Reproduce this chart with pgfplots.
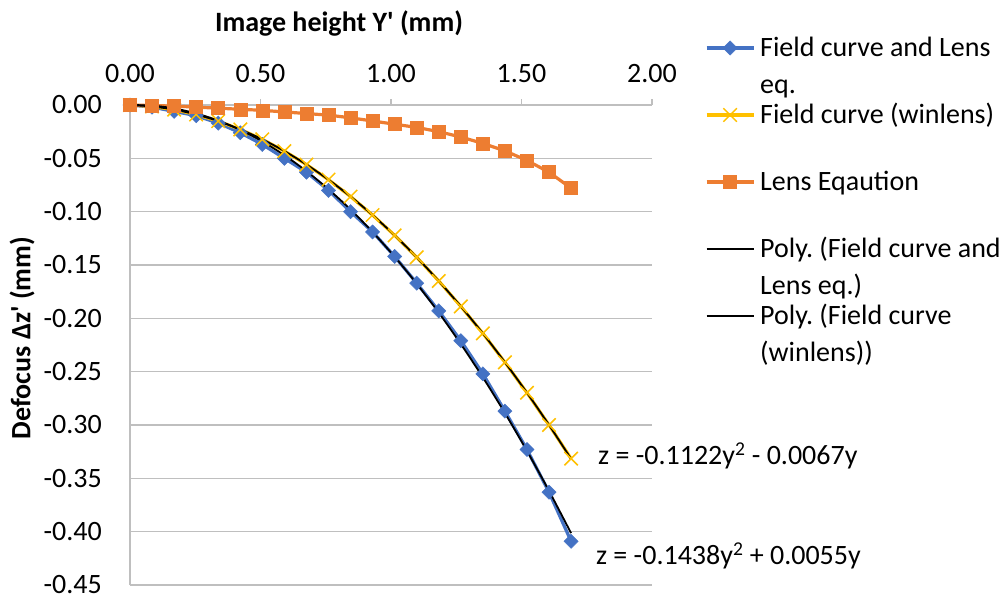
\documentclass[border=0pt]{standalone}
\usepackage{pgfplots}
\pgfplotsset{compat=1.18}
\usepackage{fontspec}
\setmainfont{Carlito}
\definecolor{cblue}{HTML}{4472C4}
\definecolor{corange}{HTML}{ED7D31}
\definecolor{cyellow}{HTML}{FFC000}
\definecolor{cgrid}{HTML}{BFBFBF}
\begin{document}
\frenchspacing
\fontsize{28bp}{37bp}\selectfont
\begin{tikzpicture}
\path[use as bounding box] (0,0) rectangle (1007bp,-594bp);
\begin{axis}[
  at={(130bp,-105bp)}, anchor=north west,
  scale only axis, width=522bp, height=480bp,
  xmin=0, xmax=2, ymin=-0.45, ymax=0,
  axis x line=top, axis y line=left,
  axis line style={-, draw=cgrid, line width=1.3bp},
  xtick={0,0.5,1,1.5,2},
  xticklabels={0.00,0.50,1.00,1.50,2.00},
  ytick={-0.45,-0.40,-0.35,-0.30,-0.25,-0.20,-0.15,-0.10,-0.05,0},
  yticklabels={-0.45,-0.40,-0.35,-0.30,-0.25,-0.20,-0.15,-0.10,-0.05,0.00},
  tick align=outside,
  major tick length=6bp,
  xtick style={draw=cgrid, line width=1.3bp},
  ytick style={draw=none},
  ymajorgrids, grid style={draw=cgrid, line width=1.3bp},
  tick label style={font=\fontsize{28bp}{34bp}\selectfont, inner sep=0pt},
  xticklabel style={anchor=center, yshift=25bp},
  yticklabel style={anchor=east, xshift=-22bp},
  xlabel={\bfseries Image height Y\textquotesingle{} (mm)},
  ylabel={\bfseries Defocus Δz\textquotesingle{} (mm)},
  xlabel style={at={(axis description cs:0.4004,1.1708)}, anchor=center, font=\fontsize{28bp}{34bp}\selectfont},
  ylabel style={at={(axis description cs:-0.2069,0.5146)}, anchor=center, rotate=0, font=\fontsize{28bp}{34bp}\selectfont},
  clip=false,
  legend style={draw=none, fill=none, inner sep=0pt, outer sep=0pt,
    at={(axis description cs:1.1015,1.1417)}, anchor=north west,
    row sep=0pt, column sep=5bp,
    cells={anchor=base west},
    nodes={inner sep=0pt, text height=20bp, text depth=47bp, font=\fontsize{28bp}{37bp}\selectfont}},
  legend image code/.code={\draw[mark repeat=2, mark phase=2, #1] plot coordinates {(0bp,9bp) (23.5bp,9bp) (47bp,9bp)};},
]
% Field curve and Lens eq.
\addplot[color=cblue, line width=3.2bp, mark=square*, mark size=5bp, mark options={rotate=45, fill=cblue, draw=cblue, line width=0.5bp}] coordinates {
(0,0) (0.0845,-0.002) (0.169,-0.006) (0.2535,-0.010) (0.338,-0.017) (0.4225,-0.026)
(0.507,-0.037) (0.5915,-0.050) (0.676,-0.063) (0.7605,-0.080) (0.845,-0.100)
(0.9295,-0.119) (1.014,-0.142) (1.0985,-0.167) (1.183,-0.193) (1.2675,-0.221)
(1.352,-0.252) (1.4365,-0.287) (1.521,-0.323) (1.6055,-0.363) (1.69,-0.409)};
\addlegendentry{\parbox[t]{250bp}{Field curve and Lens\\eq.}}
% Field curve (winlens)
\addplot[color=cyellow, line width=3.2bp, mark=x, mark size=9.5bp, mark options={line width=1.5bp}] coordinates {
(0,0) (0.0845,-0.0014) (0.169,-0.0043) (0.2535,-0.0089) (0.338,-0.0151) (0.4225,-0.0229)
(0.507,-0.0322) (0.5915,-0.0432) (0.676,-0.0558) (0.7605,-0.0700) (0.845,-0.0858)
(0.9295,-0.1032) (1.014,-0.1222) (1.0985,-0.1428) (1.183,-0.1650) (1.2675,-0.1888)
(1.352,-0.2141) (1.4365,-0.2412) (1.521,-0.2698) (1.6055,-0.3000) (1.69,-0.3315)};
\addlegendentry{\parbox[t]{250bp}{Field curve (winlens)}}
% Lens Equation
\addplot[color=corange, line width=3.2bp, mark=square*, mark size=6.5bp, mark options={fill=corange, draw=corange, line width=0.5bp}] coordinates {
(0,0) (0.0845,-0.0005) (0.169,-0.001) (0.2535,-0.002) (0.338,-0.003) (0.4225,-0.004)
(0.507,-0.005) (0.5915,-0.0065) (0.676,-0.008) (0.7605,-0.0095) (0.845,-0.012)
(0.9295,-0.015) (1.014,-0.018) (1.0985,-0.021) (1.183,-0.025) (1.2675,-0.030)
(1.352,-0.036) (1.4365,-0.043) (1.521,-0.052) (1.6055,-0.063) (1.69,-0.078)};
\addlegendentry{\parbox[t]{250bp}{Lens Eqaution}}
% Poly trend (Field curve and Lens eq.)
\addplot[color=black, line width=1.8bp, smooth, no markers] coordinates {
(0,0) (0.0845,-0.0006) (0.169,-0.0032) (0.2535,-0.0079) (0.338,-0.0146) (0.4225,-0.0234)
(0.507,-0.0342) (0.5915,-0.0471) (0.676,-0.0620) (0.7605,-0.0790) (0.845,-0.0980)
(0.9295,-0.1191) (1.014,-0.1423) (1.0985,-0.1675) (1.183,-0.1947) (1.2675,-0.2241)
(1.352,-0.2554) (1.4365,-0.2888) (1.521,-0.3243) (1.6055,-0.3618) (1.69,-0.4014)};
\addlegendentry{\parbox[t]{250bp}{Poly. (Field curve and\\Lens eq.)}}
% Poly trend (Field curve (winlens))
\addplot[color=black, line width=1.8bp, smooth, no markers] coordinates {
(0,0) (0.0845,-0.0014) (0.169,-0.0043) (0.2535,-0.0089) (0.338,-0.0151) (0.4225,-0.0229)
(0.507,-0.0322) (0.5915,-0.0432) (0.676,-0.0558) (0.7605,-0.0700) (0.845,-0.0858)
(0.9295,-0.1032) (1.014,-0.1222) (1.0985,-0.1428) (1.183,-0.1650) (1.2675,-0.1888)
(1.352,-0.2141) (1.4365,-0.2412) (1.521,-0.2698) (1.6055,-0.3000) (1.69,-0.3318)};
\addlegendentry{\parbox[t]{250bp}{Poly. (Field curve\\(winlens))}}
\node[anchor=west, inner sep=0pt, font=\fontsize{28bp}{34bp}\selectfont] at (axis cs:1.793,-0.329) {z = -0.1122y\textsuperscript{2} - 0.0067y};
\node[anchor=west, inner sep=0pt, font=\fontsize{28bp}{34bp}\selectfont] at (axis cs:1.785,-0.4227) {z = -0.1438y\textsuperscript{2} + 0.0055y};
\end{axis}
\end{tikzpicture}
\end{document}
